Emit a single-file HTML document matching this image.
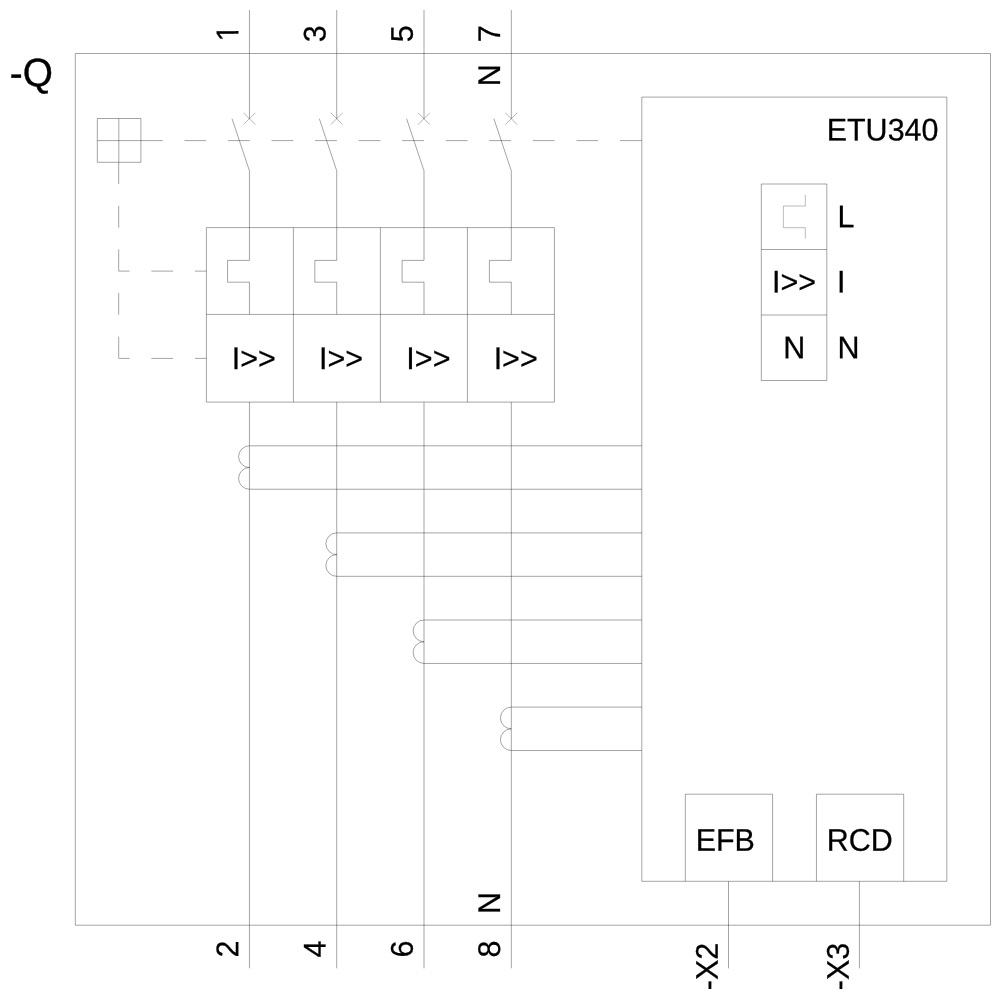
<!DOCTYPE html>
<html lang="en">
<head>
<meta charset="utf-8">
<title>-Q ETU340</title>
<style>
html,body{margin:0;padding:0;background:#fff;}
body{width:1000px;height:1000px;overflow:hidden;}
svg{display:block;will-change:transform;filter:grayscale(1);}
.l,.d{fill:none;stroke:#000;stroke-width:0.36;}
.x{fill:none;stroke:#000;stroke-width:0.3;}
.g{fill:none;stroke:#000;stroke-width:0.27;}
.w{fill:#fff;stroke:none;}
.t{font-family:"Liberation Sans",Arial,sans-serif;fill:#000;stroke:#000;stroke-width:0.25;}
.q{stroke-width:0.4;}
</style>
</head>
<body>
<svg width="1000" height="1000" viewBox="0 0 1000 1000">
<path class="l" d="M75.30 53.50H990.50V925.20H75.30Z"/>
<path class="l" d="M641.80 97.10H946.80V881.30H641.80Z"/>
<path class="l" d="M97.30 118.50H140.90V162.30H97.30Z"/>
<path class="l" d="M118.80 118.50L118.80 162.30"/>
<path class="l" d="M97.30 140.60L140.90 140.60"/>
<path class="d" d="M140.90 140.60L162.68 140.60"/>
<path class="d" d="M184.45 140.60L206.22 140.60"/>
<path class="d" d="M228.00 140.60L249.78 140.60"/>
<path class="d" d="M271.55 140.60L293.32 140.60"/>
<path class="d" d="M315.10 140.60L336.88 140.60"/>
<path class="d" d="M358.65 140.60L380.43 140.60"/>
<path class="d" d="M402.20 140.60L423.98 140.60"/>
<path class="d" d="M445.75 140.60L467.53 140.60"/>
<path class="d" d="M489.30 140.60L511.08 140.60"/>
<path class="d" d="M532.85 140.60L554.62 140.60"/>
<path class="d" d="M576.40 140.60L598.17 140.60"/>
<path class="d" d="M619.95 140.60L641.72 140.60"/>
<path class="d" d="M118.70 162.30L118.70 184.08"/>
<path class="d" d="M118.70 205.85L118.70 227.63"/>
<path class="d" d="M118.70 249.40L118.70 271.18"/>
<path class="d" d="M118.70 292.95L118.70 314.73"/>
<path class="d" d="M118.70 336.50L118.70 358.28"/>
<path class="d" d="M118.70 271.10L129.59 271.10"/>
<path class="d" d="M151.36 271.10L173.14 271.10"/>
<path class="d" d="M194.91 271.10L206.40 271.10"/>
<path class="d" d="M118.70 358.40L129.59 358.40"/>
<path class="d" d="M151.36 358.40L173.14 358.40"/>
<path class="d" d="M194.91 358.40L206.40 358.40"/>
<path class="l" d="M206.40 227.60H554.40V402.10H206.40Z"/>
<path class="l" d="M206.40 314.40L554.40 314.40"/>
<path class="l" d="M293.40 227.60L293.40 402.10"/>
<path class="l" d="M380.40 227.60L380.40 402.10"/>
<path class="l" d="M467.40 227.60L467.40 402.10"/>
<path class="l" d="M249.45 10.00L249.45 118.70"/>
<path class="x" d="M243.50 112.80L255.30 124.60"/>
<path class="x" d="M243.50 124.60L255.30 112.80"/>
<path class="l" d="M232.05 118.70L249.45 170.80L249.45 260.40L227.55 260.40L227.55 282.20L249.45 282.20L249.45 314.40"/>
<path class="l" d="M249.45 402.10L249.45 968.30"/>
<path class="l" d="M641.80 445.80H249.45A10.86 10.86 0 0 0 249.45 467.52A10.86 10.86 0 0 0 249.45 489.24H641.80"/>
<text class="t" font-size="30.5" transform="translate(231.80 369.00) matrix(1 .0005 0 1.027 0 0)">I&gt;&gt;</text>
<path class="l" d="M336.73 10.00L336.73 118.70"/>
<path class="x" d="M330.78 112.80L342.58 124.60"/>
<path class="x" d="M330.78 124.60L342.58 112.80"/>
<path class="l" d="M319.33 118.70L336.73 170.80L336.73 260.40L314.83 260.40L314.83 282.20L336.73 282.20L336.73 314.40"/>
<path class="l" d="M336.73 402.10L336.73 968.30"/>
<path class="l" d="M641.80 532.90H336.73A10.86 10.86 0 0 0 336.73 554.62A10.86 10.86 0 0 0 336.73 576.34H641.80"/>
<text class="t" font-size="30.5" transform="translate(319.08 369.00) matrix(1 .0005 0 1.027 0 0)">I&gt;&gt;</text>
<path class="l" d="M424.00 10.00L424.00 118.70"/>
<path class="x" d="M418.05 112.80L429.85 124.60"/>
<path class="x" d="M418.05 124.60L429.85 112.80"/>
<path class="l" d="M406.60 118.70L424.00 170.80L424.00 260.40L402.10 260.40L402.10 282.20L424.00 282.20L424.00 314.40"/>
<path class="l" d="M424.00 402.10L424.00 968.30"/>
<path class="l" d="M641.80 620.00H424.00A10.86 10.86 0 0 0 424.00 641.72A10.86 10.86 0 0 0 424.00 663.44H641.80"/>
<text class="t" font-size="30.5" transform="translate(406.35 369.00) matrix(1 .0005 0 1.027 0 0)">I&gt;&gt;</text>
<path class="l" d="M511.30 10.00L511.30 118.70"/>
<path class="x" d="M505.35 112.80L517.15 124.60"/>
<path class="x" d="M505.35 124.60L517.15 112.80"/>
<path class="l" d="M493.90 118.70L511.30 170.80L511.30 260.40L489.40 260.40L489.40 282.20L511.30 282.20L511.30 314.40"/>
<path class="l" d="M511.30 402.10L511.30 968.30"/>
<path class="l" d="M641.80 707.10H511.30A10.86 10.86 0 0 0 511.30 728.82A10.86 10.86 0 0 0 511.30 750.54H641.80"/>
<text class="t" font-size="30.5" transform="translate(493.65 369.00) matrix(1 .0005 0 1.027 0 0)">I&gt;&gt;</text>
<path class="l" d="M761.30 184.00H826.80V380.50H761.30Z"/>
<path class="l" d="M761.30 249.50L826.80 249.50"/>
<path class="l" d="M761.30 315.00L826.80 315.00"/>
<path class="g" d="M805.30 195.00L805.30 206.00L783.40 206.00L783.40 227.70L805.30 227.70L805.30 238.60"/>
<text class="t" font-size="30.5" transform="translate(837.40 227.20) matrix(1 .0005 0 1.027 0 0)">L</text>
<text class="t" font-size="30.5" transform="translate(837.05 292.60) matrix(1 .0005 0 1.027 0 0)">I</text>
<text class="t" font-size="30.5" transform="translate(837.40 358.30) matrix(1 .0005 0 1.027 0 0)">N</text>
<text class="t" font-size="30.5" transform="translate(771.95 292.60) matrix(1 .0005 0 1.027 0 0)">I&gt;&gt;</text>
<text class="t" font-size="30.5" transform="translate(783.20 358.30) matrix(1 .0005 0 1.027 0 0)">N</text>
<text class="t" font-size="30.5" transform="translate(826.65 140.45) matrix(1 .0005 0 1.027 0 0)">ETU340</text>
<path class="l" d="M685.30 881.30L685.30 794.20L772.60 794.20L772.60 881.30"/>
<path class="l" d="M816.45 881.30L816.45 794.20L903.70 794.20L903.70 881.30"/>
<text class="t" font-size="30.5" transform="translate(695.65 850.85) matrix(1 .0005 0 1.027 0 0)">EFB</text>
<text class="t" font-size="30.5" transform="translate(826.75 850.85) matrix(1 .0005 0 1.027 0 0)">RCD</text>
<path class="l" d="M728.50 881.30L728.50 968.40"/>
<path class="l" d="M859.40 881.30L859.40 968.40"/>
<text class="t" font-size="30.5" transform="translate(717.85 990.20) rotate(-90) matrix(1 .0005 0 1.027 0 0)"><tspan dy=".4">-</tspan><tspan dy="-.4">X2</tspan></text>
<text class="t" font-size="30.5" transform="translate(848.75 990.20) rotate(-90) matrix(1 .0005 0 1.027 0 0)"><tspan dy=".4">-</tspan><tspan dy="-.4">X3</tspan></text>
<text class="t q" font-size="38.8" transform="translate(9.80 86.30) matrix(1 .0005 0 1.027 0 0)"><tspan dy=".5">-</tspan><tspan dy="-.5">Q</tspan></text>
<text class="t" font-size="30.5" transform="translate(238.15 41.40) rotate(-90) matrix(1 .0005 0 1.027 0 0)">1</text>
<text class="t" font-size="30.5" transform="translate(325.43 42.30) rotate(-90) matrix(1 .0005 0 1.027 0 0)">3</text>
<text class="t" font-size="30.5" transform="translate(412.70 42.30) rotate(-90) matrix(1 .0005 0 1.027 0 0)">5</text>
<text class="t" font-size="30.5" transform="translate(500.00 42.30) rotate(-90) matrix(1 .0005 0 1.027 0 0)">7</text>
<path class="w" d="M234.7 24.8H239.3V30.9H234.7ZM234.7 33.86H239.3V40.3H234.7Z"/>
<text class="t" font-size="30.5" transform="translate(238.15 957.50) rotate(-90) matrix(1 .0005 0 1.027 0 0)">2</text>
<text class="t" font-size="30.5" transform="translate(325.43 957.50) rotate(-90) matrix(1 .0005 0 1.027 0 0)">4</text>
<text class="t" font-size="30.5" transform="translate(412.70 957.50) rotate(-90) matrix(1 .0005 0 1.027 0 0)">6</text>
<text class="t" font-size="30.5" transform="translate(500.00 957.50) rotate(-90) matrix(1 .0005 0 1.027 0 0)">8</text>
<text class="t" font-size="30.5" transform="translate(499.90 86.15) rotate(-90) matrix(1 .0005 0 1.027 0 0)">N</text>
<text class="t" font-size="30.5" transform="translate(499.90 914.10) rotate(-90) matrix(1 .0005 0 1.027 0 0)">N</text>
</svg>
</body>
</html>
